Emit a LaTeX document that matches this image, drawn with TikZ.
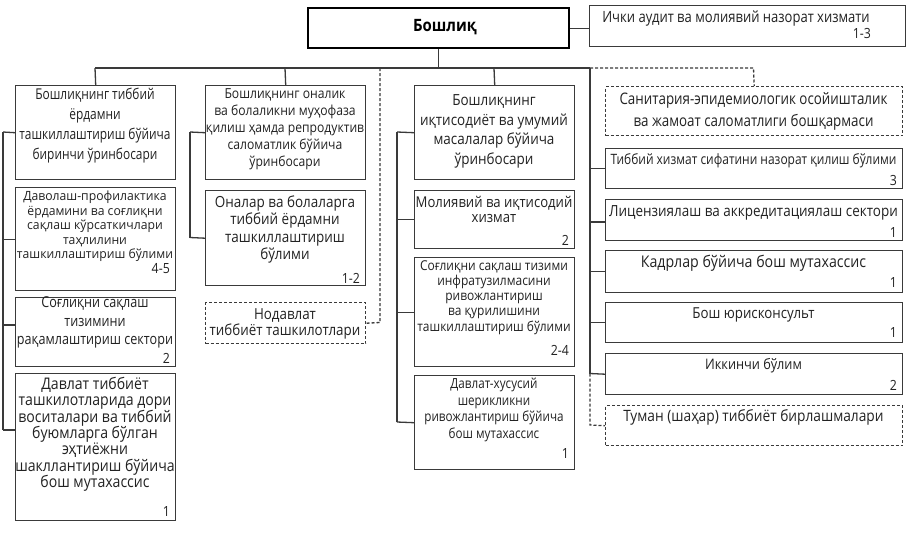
\documentclass[tikz,border=0pt]{standalone}
\usepackage{fontspec}
\setmainfont{Open Sans}
\newfontfamily\fa{Open Sans}[FakeStretch=0.80]
\newfontfamily\fb{Open Sans}[FakeStretch=0.84]
\newfontfamily\fc{Open Sans}[FakeStretch=0.88]
\newfontfamily\fe{Open Sans}[FakeStretch=0.96]
\definecolor{lc}{HTML}{3A3A3A}
\definecolor{tc}{HTML}{222222}
\newcommand{\fs}[2]{\fontsize{#1}{#2}\selectfont}
\begin{document}
\begin{tikzpicture}[x=1pt,y=-1pt,
  ln/.style={draw=lc, line width=1.3pt},
  dl/.style={draw=lc, line width=1.3pt, dash pattern=on 3pt off 2pt},
  box/.style={draw=lc, line width=1.4pt, rectangle, inner sep=0pt, anchor=north west},
  dbox/.style={box, dash pattern=on 3pt off 2pt},
  txt/.style={text=tc, align=center, inner sep=0pt, anchor=north},
  num/.style={text=tc, inner sep=0pt, anchor=base east, font=\fc\fs{14}{15}}
]
\useasboundingbox (0,0) rectangle (911,542);
\fill[white] (0,0) rectangle (911,542);

% boxes
\node[box, draw=black, line width=2.4pt, minimum width=261pt, minimum height=40pt] (boss) at (307,7) {};
\node[box, minimum width=316pt, minimum height=41pt] (audit) at (589,5) {};

\node[box, minimum width=160pt, minimum height=94pt] (c1a) at (15,85) {};
\node[box, minimum width=160pt, minimum height=103pt] (c1b) at (15,187) {};
\node[box, minimum width=160pt, minimum height=69pt] (c1c) at (15,297) {};
\node[box, minimum width=160pt, minimum height=147pt] (c1d) at (15,373) {};

\node[box, minimum width=160pt, minimum height=94pt] (c2a) at (205,85) {};
\node[box, minimum width=160pt, minimum height=95pt] (c2b) at (205,190) {};
\node[dbox, minimum width=160pt, minimum height=41pt] (c2n) at (205,302) {};

\node[box, minimum width=160pt, minimum height=94pt] (c3a) at (414,85) {};
\node[box, minimum width=160pt, minimum height=58pt] (c3b) at (414,190) {};
\node[box, minimum width=160pt, minimum height=109pt] (c3c) at (414,257) {};
\node[box, minimum width=160pt, minimum height=94pt] (c3d) at (414,375) {};

\node[dbox, minimum width=297pt, minimum height=49pt] (c4s) at (605,86) {};
\node[box, minimum width=297pt, minimum height=40pt] (c4a) at (605,148) {};
\node[box, minimum width=297pt, minimum height=41pt] (c4b) at (605,199) {};
\node[box, minimum width=297pt, minimum height=42pt] (c4c) at (605,250) {};
\node[box, minimum width=297pt, minimum height=40pt] (c4d) at (605,302) {};
\node[box, minimum width=297pt, minimum height=41pt] (c4e) at (605,353) {};
\node[dbox, minimum width=297pt, minimum height=40pt] (c4t) at (605,405) {};

% texts
\node[text=black, inner sep=0pt, font=\fc\bfseries\fs{17}{19}] (boss-t) at (445,27) {Бошлиқ};
\node[txt, font=\fb\fs{15.5}{16}] (audit-t) at (736,{18-7.6}) {Ички аудит ва молиявий назорат хизмати};
\node[num] (audit-n) at (871,{33+5}) {1-3};

\node[txt, font=\fa\fs{14.9}{20}] (c1a-t) at (95,{95-7.3}) {Бошлиқнинг тиббий\\ёрдамни\\ташкиллаштириш бўйича\\биринчи ўринбосари};
\node[txt, font=\fe\fs{12.7}{14.5}] (c1b-t) at (95,{197-6.2}) {Даволаш-профилактика\\ёрдамини ва соғлиқни\\сақлаш кўрсаткичлари\\таҳлилини\\ташкиллаштириш бўлими};
\node[num] (c1b-n) at (170,{268+5}) {4-5};
\node[txt, font=\fb\fs{15}{18.5}] (c1c-t) at (95,{304-7.3}) {Соғлиқни сақлаш\\тизимини\\рақамлаштириш сектори};
\node[num] (c1c-n) at (170,{358+5}) {2};
\node[txt, font=\fc\fs{16}{16.3}] (c1d-t) at (95,{385-7.8}) {Давлат тиббиёт\\ташкилотларида дори\\воситалари ва тиббий\\буюмларга бўлган\\эҳтиёжни\\шакллантириш бўйича\\бош мутахассис};
\node[num] (c1d-n) at (170,{511+5}) {1};

\node[txt, font=\fc\fs{13.8}{17}] (c2a-t) at (285,{95-6.8}) {Бошлиқнинг оналик\\ва болаликни муҳофаза\\қилиш ҳамда репродуктив\\саломатлик бўйича\\ўринбосари};
\node[txt, font=\fc\fs{15.3}{17.5}] (c2b-t) at (285,{203-7.5}) {Оналар ва болаларга\\тиббий ёрдамни\\ташкиллаштириш\\бўлими};
\node[num] (c2b-n) at (360,{278+5}) {1-2};
\node[txt, font=\fc\fs{15.2}{16}] (c2n-t) at (285,{316-7.4}) {Нодавлат\\тиббиёт ташкилотлари};

\node[txt, font=\fc\fs{15.3}{19.5}] (c3a-t) at (494,{102-7.5}) {Бошлиқнинг\\иқтисодиёт ва умумий\\масалалар бўйича\\ўринбосари};
\node[txt, font=\fc\fs{14.9}{15.5}] (c3b-t) at (494,{203-7.3}) {Молиявий ва иқтисодий\\хизмат};
\node[num] (c3b-n) at (569,{240+5}) {2};
\node[txt, font=\fc\fs{13.6}{15.2}] (c3c-t) at (494,{267-6.7}) {Соғлиқни сақлаш тизими\\инфратузилмасини\\ривожлантириш\\ва қурилишини\\ташкиллаштириш бўлими};
\node[num] (c3c-n) at (569,{350+5}) {2-4};
\node[txt, font=\fb\fs{13.9}{16.5}] (c3d-t) at (494,{385-6.8}) {Давлат-хусусий\\шерикликни\\ривожлантириш бўйича\\бош мутахассис};
\node[num] (c3d-n) at (569,{453+5}) {1};

\node[txt, font=\fb\fs{15.9}{22}] (c4s-t) at (753.5,{100-7.8}) {Санитария-эпидемиологик осойишталик\\ва жамоат саломатлиги бошқармаси};
\node[txt, font=\fb\fs{14.25}{15}] (c4a-t) at (753.5,{160-7}) {Тиббий хизмат сифатини назорат қилиш бўлими};
\node[num] (c4a-n) at (897,{180+5}) {3};
\node[txt, font=\fc\fs{15.3}{16}] (c4b-t) at (753.5,{213-7.5}) {Лицензиялаш ва аккредитациялаш сектори};
\node[num] (c4b-n) at (897,{232+5}) {1};
\node[txt, font=\fc\fs{16.1}{17}] (c4c-t) at (753.5,{263-7.9}) {Кадрлар бўйича бош мутахассис};
\node[num] (c4c-n) at (897,{282+5}) {1};
\node[txt, font=\fc\fs{15.1}{16}] (c4d-t) at (753.5,{315-7.4}) {Бош юрисконсульт};
\node[num] (c4d-n) at (897,{332+5}) {1};
\node[txt, font=\fc\fs{14.5}{16}] (c4e-t) at (753.5,{365-7.1}) {Иккинчи бўлим};
\node[num] (c4e-n) at (897,{385+5}) {2};
\node[txt, font=\fc\fs{15.6}{16}] (c4t-t) at (753.5,{417-7.6}) {Туман (шаҳар) тиббиёт бирлашмалари};

% connector coordinates
\coordinate (h1) at (95,68);
\coordinate (h2) at (285,68);
\coordinate (hd) at (380,68);
\coordinate (h3) at (494,68);
\coordinate (h4) at (590,68);
\coordinate (h5) at (753.5,68);
\coordinate (s1t) at (3,132);
\coordinate (s1b) at (3,430);
\coordinate (s2t) at (190,132);
\coordinate (s2b) at (190,237.5);
\coordinate (dn) at (380,322.5);
\coordinate (s3t) at (397,132);
\coordinate (s3b) at (397,422);
\coordinate (s4e) at (590,373.5);
\coordinate (s4t) at (590,425);

% connectors
\draw[ln] (boss.south) -- (boss.south |- h1);
\draw[ln] (boss.east) -- (audit.west |- boss.east);
\draw[ln] (h1) -- (h4);
\draw[ln] (h1) -- (c1a.north);
\draw[ln] (h2) -- (c2a.north);
\draw[ln] (h3) -- (c3a.north);

\draw[ln] (s1t) -- (s1b);
\draw[ln] (s1t) -- (c1a.west);
\draw[ln] (c1b.west -| s1t) -- (c1b.west);
\draw[ln] (s1t |- 0,325) -- (c1c.west |- 0,325);
\draw[ln] (s1b) -- (c1d.west |- s1b);

\draw[ln] (s2t) -- (s2b);
\draw[ln] (s2t) -- (c2a.west);
\draw[ln] (s2b) -- (c2b.west);
\draw[dl] (hd) -- (dn) -- (c2n.east);

\draw[ln] (s3t) -- (s3b);
\draw[ln] (s3t) -- (c3a.west);
\draw[ln] (c3b.west -| s3t) -- (c3b.west);
\draw[ln] (c3c.west -| s3t) -- (c3c.west);
\draw[ln] (s3b) -- (c3d.west);

\draw[ln] (h4) -- (s4e);
\draw[ln] (c4a.west -| h4) -- (c4a.west);
\draw[ln] (h4 |- 0,222) -- (c4b.west |- 0,222);
\draw[ln] (c4c.west -| h4) -- (c4c.west);
\draw[ln] (c4d.west -| h4) -- (c4d.west);
\draw[ln] (s4e) -- (c4e.west);
\draw[dl] (s4e) -- (s4t) -- (c4t.west);
\draw[dl] (h4) -- (h5) -- (c4s.north);
\end{tikzpicture}
\end{document}
